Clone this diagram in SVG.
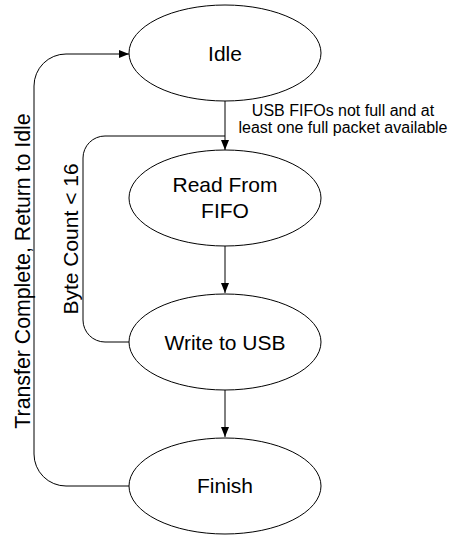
<svg xmlns="http://www.w3.org/2000/svg" width="450" height="535" viewBox="0 0 450 535">
<style>
.node ellipse{fill:#fff;stroke:#000;stroke-width:1}
.t{font-family:"Liberation Sans",Arial,sans-serif;font-size:21px;fill:#000;text-anchor:middle}
.s{font-family:"Liberation Sans",Arial,sans-serif;font-size:16px;fill:#000;text-anchor:middle}
.c{fill:none;stroke:#000;stroke-width:1}
</style>
<defs>
<marker id="arr" viewBox="0 0 10 10" refX="10" refY="5" markerWidth="10" markerHeight="10" markerUnits="userSpaceOnUse" orient="auto">
<path d="M0,1 L10,5 L0,9 Z" fill="#000"/>
</marker>
</defs>
<rect width="450" height="535" fill="#fff"/>
<g id="connectors">
<path class="c" d="M225,101 V150" marker-end="url(#arr)"/>
<path class="c" d="M225,246 V293" marker-end="url(#arr)"/>
<path class="c" d="M225,390 V437" marker-end="url(#arr)"/>
<path class="c" d="M129,342 H105 A22,22 0 0 1 83,320 V158 A22,22 0 0 1 105,136 H225"/>
<path class="c" d="M129,486 H66 A32,32 0 0 1 34,454 V86 A32,32 0 0 1 66,54 H129" marker-end="url(#arr)"/>
<text class="s" x="343" y="116">USB FIFOs not full and at</text>
<text class="s" x="343" y="133">least one full packet available</text>
<text class="t" transform="translate(78,239) rotate(-90)">Byte Count &lt; 16</text>
<text class="t" transform="translate(30,271) rotate(-90)" style="font-size:21.3px">Transfer Complete, Return to Idle</text>
</g>
<g id="idle" class="node">
<ellipse cx="225" cy="53" rx="96" ry="48"/>
<text class="t" x="225" y="60.5">Idle</text>
</g>
<g id="read" class="node">
<ellipse cx="225" cy="198" rx="96" ry="48"/>
<text class="t" x="225" y="192">Read From</text>
<text class="t" x="225" y="218">FIFO</text>
</g>
<g id="write" class="node">
<ellipse cx="225" cy="342" rx="96" ry="48"/>
<text class="t" x="225" y="349.5">Write to USB</text>
</g>
<g id="finish" class="node">
<ellipse cx="225" cy="486" rx="96" ry="48"/>
<text class="t" x="225" y="493">Finish</text>
</g>
</svg>
